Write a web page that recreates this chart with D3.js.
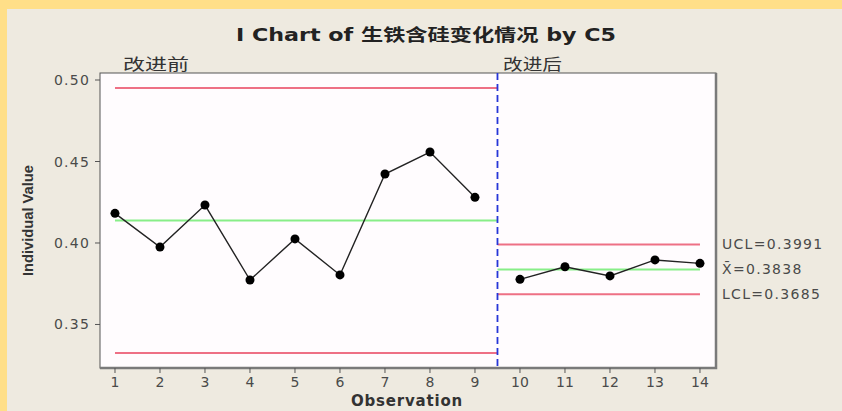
<!DOCTYPE html>
<html>
<head>
<meta charset="utf-8">
<script src="https://cdn.jsdelivr.net/npm/d3@7"></script>
<style>
  html, body { margin: 0; padding: 0; background: #ffdf88; }
  svg { display: block; }
</style>
</head>
<body>
<svg id="chart" width="842" height="411"></svg>
<script>
  // values
  const observations = [1, 2, 3, 4, 5, 6, 7, 8, 9, 10, 11, 12, 13, 14];
  const values = [0.4182, 0.3975, 0.4233, 0.3773, 0.4025, 0.3804, 0.4423, 0.4558, 0.4280,
                  0.3777, 0.3854, 0.3798, 0.3896, 0.3875];
  const stageOf = ['改进前', '改进前', '改进前', '改进前', '改进前', '改进前', '改进前', '改进前', '改进前',
                   '改进后', '改进后', '改进后', '改进后', '改进后'];
  const stageNames = ['改进前', '改进后'];
  const ucl = [0.4951, 0.3991];
  const center = [0.4138, 0.3838];
  const lcl = [0.3325, 0.3685];
  const yTicks = [0.35, 0.40, 0.45, 0.50];
  const yTickLabels = ['0.35', '0.40', '0.45', '0.50'];
  const limitLabels = ['UCL=0.3991', 'X̄=0.3838', 'LCL=0.3685'];

  const width = 842;
  const height = 411;
  const plot = { left: 100, top: 73, right: 716, bottom: 368 };
  const font = '"DejaVu Sans", "Noto Sans CJK SC", sans-serif';
  const cjk = '"Noto Sans CJK SC", "DejaVu Sans", sans-serif';

  const svg = d3.select('#chart');

  // yellow frame top/left, beige panel
  svg.append('rect').attr('x', 0).attr('y', 0).attr('width', width).attr('height', height).attr('fill', '#ffdf88');
  svg.append('rect').attr('x', 7).attr('y', 9).attr('width', width - 7).attr('height', height - 9).attr('fill', '#eeeae0');

  const x = d3.scaleLinear().domain([0.667, 14.356]).range([plot.left, plot.right]);
  const y = d3.scaleLinear().domain([0.3233, 0.5043]).range([plot.bottom, plot.top]);

  // plot area
  svg.append('rect')
    .attr('x', plot.left).attr('y', plot.top)
    .attr('width', plot.right - plot.left).attr('height', plot.bottom - plot.top)
    .attr('fill', '#fffcfe').attr('stroke', '#555').attr('stroke-width', 1);
  svg.append('path')
    .attr('d', `M${plot.right},${plot.top}V${plot.bottom}H${plot.left}`)
    .attr('fill', 'none').attr('stroke', '#7a7a7a').attr('stroke-width', 2.5);

  // stage extents
  const stages = stageNames.map((name, i) => {
    const obs = observations.filter((_, k) => stageOf[k] === name);
    return { name, i, first: d3.min(obs), last: d3.max(obs) };
  });
  stages.forEach((s, i) => {
    s.start = i === 0 ? s.first : (stages[i - 1].last + s.first) / 2;
    s.end = i === stages.length - 1 ? s.last : (s.last + observations[observations.indexOf(s.last) + 1]) / 2;
  });

  const limits = svg.append('g');
  stages.forEach((s) => {
    [[ucl[s.i], '#ee7085'], [lcl[s.i], '#ee7085'], [center[s.i], '#88ee88']].forEach(([v, c]) => {
      limits.append('line')
        .attr('x1', x(s.start)).attr('x2', x(s.end))
        .attr('y1', y(v)).attr('y2', y(v))
        .attr('stroke', c).attr('stroke-width', 2);
    });
  });

  // stage divider
  stages.slice(1).forEach((s) => {
    svg.append('line')
      .attr('x1', x(s.start)).attr('x2', x(s.start))
      .attr('y1', plot.top).attr('y2', plot.bottom)
      .attr('stroke', '#2636d8').attr('stroke-width', 1.8)
      .attr('stroke-dasharray', '7,4');
  });

  // series
  const line = d3.line().x((d) => x(d.obs)).y((d) => y(d.value));
  stages.forEach((s) => {
    const pts = observations.map((o, k) => ({ obs: o, value: values[k], stage: stageOf[k] }))
      .filter((d) => d.stage === s.name);
    svg.append('path').datum(pts).attr('d', line)
      .attr('fill', 'none').attr('stroke', '#222').attr('stroke-width', 1.4);
    svg.append('g').selectAll('circle').data(pts).join('circle')
      .attr('cx', (d) => x(d.obs)).attr('cy', (d) => y(d.value))
      .attr('r', 4.5).attr('fill', '#000');
  });

  // y axis
  const yAxis = svg.append('g');
  yTicks.forEach((t, i) => {
    yAxis.append('line').attr('x1', plot.left - 5).attr('x2', plot.left)
      .attr('y1', y(t)).attr('y2', y(t)).attr('stroke', '#555');
    yAxis.append('text').attr('x', plot.left - 10).attr('y', y(t) + 5)
      .attr('text-anchor', 'end').attr('font-family', font).attr('font-size', 14)
      .attr('letter-spacing', 1.2).attr('fill', '#4a4a4a').text(yTickLabels[i]);
  });

  // x axis
  const xAxis = svg.append('g');
  observations.forEach((o) => {
    xAxis.append('line').attr('x1', x(o)).attr('x2', x(o))
      .attr('y1', plot.bottom).attr('y2', plot.bottom + 5).attr('stroke', '#555');
    xAxis.append('text').attr('x', x(o)).attr('y', plot.bottom + 19)
      .attr('text-anchor', 'middle').attr('font-family', font).attr('font-size', 14)
      .attr('fill', '#4a4a4a').text(String(o));
  });

  // limit labels for the last stage
  const lastStage = stages[stages.length - 1];
  [ucl[lastStage.i], center[lastStage.i], lcl[lastStage.i]].forEach((v, i) => {
    svg.append('text').attr('x', plot.right + 6).attr('y', y(v) + 5)
      .attr('font-family', font).attr('font-size', 14).attr('letter-spacing', 1.3)
      .attr('fill', '#4a4a4a').text(limitLabels[i]);
  });

  // stage names
  const stageLabelPos = [[123, 66], [503, 59]];
  stages.forEach((s, i) => {
    svg.append('text').attr('x', stageLabelPos[i][0]).attr('y', 70)
      .attr('font-family', cjk).attr('font-size', 16)
      .attr('textLength', stageLabelPos[i][1]).attr('lengthAdjust', 'spacingAndGlyphs')
      .attr('fill', '#333').text(s.name);
  });

  // titles
  svg.append('text').attr('x', 236).attr('y', 41)
    .attr('font-family', font).attr('font-size', 17).attr('font-weight', 'bold')
    .attr('textLength', 380).attr('lengthAdjust', 'spacingAndGlyphs')
    .attr('fill', '#222').text('I Chart of 生铁含硅变化情况 by C5');

  svg.append('text').attr('x', 407).attr('y', 406)
    .attr('text-anchor', 'middle').attr('font-family', font).attr('font-size', 15)
    .attr('font-weight', 'bold').attr('letter-spacing', 0.8)
    .attr('fill', '#333').text('Observation');

  svg.append('text')
    .attr('transform', `translate(33, ${(plot.top + plot.bottom) / 2}) rotate(-90)`)
    .attr('text-anchor', 'middle').attr('font-family', '"Liberation Sans", Arial, sans-serif')
    .attr('font-size', 15).attr('font-weight', 'bold')
    .attr('textLength', 111).attr('lengthAdjust', 'spacingAndGlyphs')
    .attr('fill', '#333').text('Individual Value');
</script>
</body>
</html>
